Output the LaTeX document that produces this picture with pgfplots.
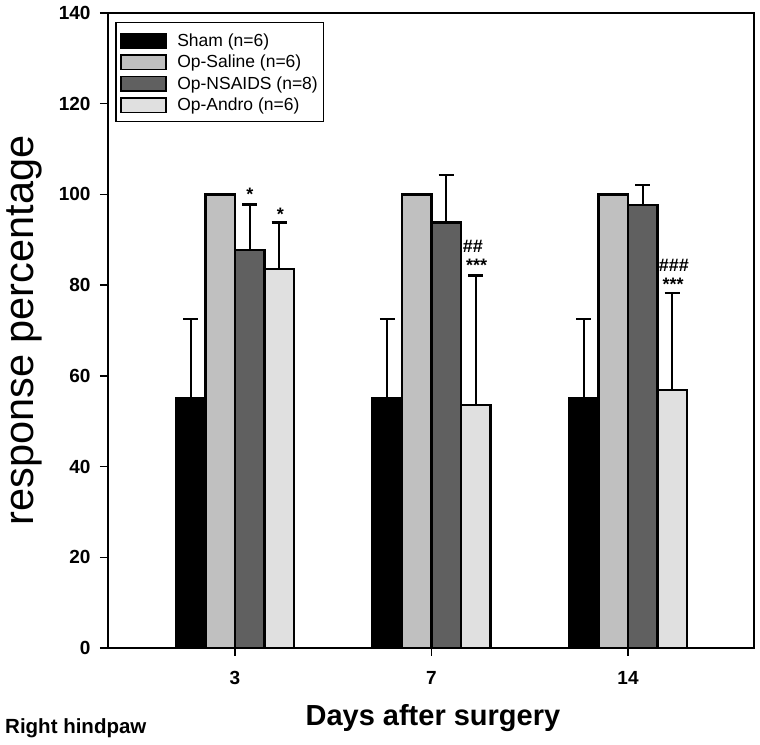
\documentclass[border=0pt]{standalone}
\usepackage{fontspec}
\setmainfont{Liberation Sans}
\usepackage{pgfplots}
\pgfplotsset{compat=1.18}
\definecolor{sal}{HTML}{C0C0C0}
\definecolor{nsa}{HTML}{606060}
\definecolor{andr}{HTML}{E0E0E0}
\begin{document}
\begin{tikzpicture}[x=1pt,y=1pt]
\useasboundingbox (0,0) rectangle (760,744);
\begin{axis}[
 at={(108pt,96pt)}, anchor=south west,
 scale only axis, width=646pt, height=635pt,
 xmin=0.354, xmax=3.641, ymin=0, ymax=140,
 xtick={1,2,3}, xticklabels={3,7,14},
 ytick={0,20,...,140},
 tick align=outside, tick pos=left,
 major tick length=8pt,
 tick style={line width=1.5pt, black},
 axis line style={line width=2.2pt},
 ticklabel style={font=\fontsize{19}{19}\selectfont\bfseries},
 yticklabel style={xshift=-6pt},
 xticklabel style={yshift=-12pt},
 /pgf/number format/assume math mode=true,
 ybar=0pt, bar width=0.15,
 every axis plot/.append style={draw=black, line width=2.2pt},
 error bars/y dir=plus, error bars/y explicit,
 error bars/error mark options={rotate=90, mark size=7.5pt, line width=2.4pt, black},
 error bars/error bar style={line width=2.4pt, black},
 xlabel={Days after surgery},
 xlabel style={at={(axis description cs:0.503,-0.1213)}, anchor=base, font=\fontsize{29}{29}\selectfont\bfseries},
 ylabel={response percentage},
 ylabel style={at={(axis description cs:-0.1150,0.5)}, anchor=base, font=\fontsize{41.5}{41.5}\selectfont},
 legend cell align=left,
 legend image code/.code={\path[draw=none, fill=none] (0pt,-1pt) rectangle (45pt,13.5pt);
   \draw[#1, line width=1.6pt, overlay] (0pt,-5.5pt) rectangle (45pt,9pt);},
 legend style={at={(axis description cs:0.01084,0.9863)}, anchor=north west,
   draw=black, line width=1.6pt, font=\fontsize{17.5}{17.5}\selectfont,
   inner xsep=5.5pt, inner ysep=6.5pt, row sep=0pt,
   nodes={inner sep=0pt, text height=12pt, text depth=4pt}},
 /tikz/every odd column/.append style={column sep=11pt},
]
\addplot[fill=black] coordinates {(1,55.1) +- (0,17.5) (2,55.1) +- (0,17.5) (3,55.1) +- (0,17.5)};
\addplot[fill=sal] coordinates {(1,100) +- (0,0) (2,100) +- (0,0) (3,100) +- (0,0)};
\addplot[fill=nsa] coordinates {(1,87.7) +- (0,10.1) (2,93.8) +- (0,10.5) (3,97.6) +- (0,4.5)};
\addplot[fill=andr] coordinates {(1,83.5) +- (0,10.3) (2,53.5) +- (0,28.6) (3,56.8) +- (0,21.5)};
\legend{Sham (n=6),Op-Saline (n=6),Op-NSAIDS (n=8),Op-Andro (n=6)}
\begin{scope}[every node/.style={font=\fontsize{18}{18}\selectfont\bfseries, anchor=base, inner sep=0pt}]
\node at (axis cs:1.076,98.7) {*};
\node at (axis cs:1.231,94.2) {*};
\node at (axis cs:2.211,87.1) {\#\#};
\node at (axis cs:2.230,83.0) {***};
\node at (axis cs:3.233,82.9) {\#\#\#};
\node at (axis cs:3.229,78.9) {***};
\end{scope}
\end{axis}
\node[anchor=base west, inner sep=0pt, font=\fontsize{20.5}{20.5}\selectfont\bfseries] at (5,10) {Right hindpaw};
\end{tikzpicture}
\end{document}
